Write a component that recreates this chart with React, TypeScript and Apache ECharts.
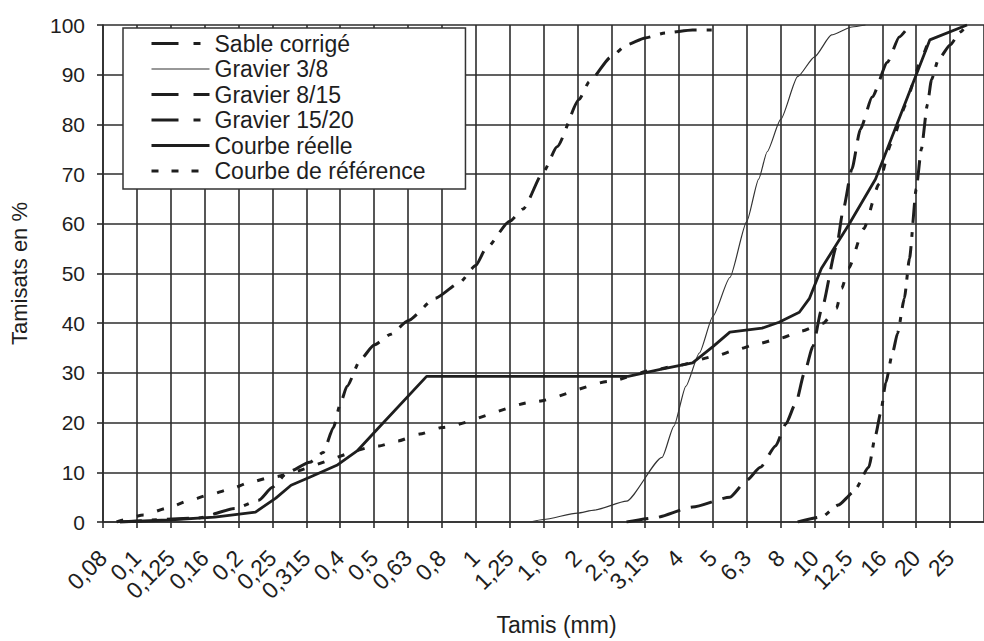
import { useEffect, useRef } from 'react';
import * as echarts from 'echarts';

// Sieve openings (mm) – one axis step per sieve; x values below are expressed in sieve steps
const SIEVES = ['0,08', '0,1', '0,125', '0,16', '0,2', '0,25', '0,315', '0,4', '0,5', '0,63', '0,8', '1', '1,25', '1,6', '2', '2,5', '3,15', '4', '5', '6,3', '8', '10', '12,5', '16', '20', '25'];

const SERIES_NAMES = ['Sable corrigé', 'Gravier 3/8', 'Gravier 8/15', 'Gravier 15/20', 'Courbe réelle', 'Courbe de référence'];

const SABLE: [number, number][] = [
  [0.5, 0], [2.8, 0.8], [3.9, 2.7], [4.6, 4.4], [5.0, 7], [5.45, 10], [6.1, 12], [6.5, 14], [6.8, 19],
  [7.0, 23.7], [7.2, 27.3], [7.6, 32.7], [8.0, 35.6], [8.5, 37.8], [9.0, 40.5], [9.8, 45], [10.5, 48],
  [11.0, 51.6], [11.3, 55], [12.0, 60.5], [12.4, 63], [13.0, 70.5], [13.4, 75.5], [14.05, 85], [14.35, 88.6],
  [15.0, 93.6], [15.45, 96], [16.0, 97.4], [16.6, 98.4], [17.4, 99], [18.2, 99],
];

const GRAVIER_3_8: [number, number][] = [
  [12.6, 0], [13.0, 0.5], [14.0, 1.8], [14.5, 2.4], [15.45, 4.2], [16.5, 13], [16.85, 19.3], [17.2, 27.3],
  [17.6, 34], [18.0, 41.4], [18.5, 49.2], [19.0, 60.5], [19.35, 69], [19.6, 74.5], [20.0, 81], [20.5, 89.6],
  [21.0, 93.6], [21.5, 98], [22.1, 99.6], [22.5, 100],
];

const GRAVIER_8_15: [number, number][] = [
  [15.45, 0], [16.25, 0.8], [17.4, 3], [18.5, 5], [19.0, 8.4], [19.4, 11], [19.85, 15.3], [20.15, 19.7],
  [20.45, 24], [20.7, 30], [20.95, 35.3], [21.2, 42.6], [21.65, 55.5], [21.85, 63], [22.1, 71], [22.35, 79],
  [22.7, 85.5], [23.15, 92.5], [23.5, 97.6], [23.7, 99],
];

const GRAVIER_15_20: [number, number][] = [
  [20.5, 0], [21.2, 1], [21.7, 3.4], [22.15, 6], [22.6, 11], [22.8, 17.5], [22.95, 22], [23.1, 28],
  [23.3, 34], [23.45, 38], [23.65, 45], [23.8, 53], [24.0, 67], [24.15, 75], [24.33, 84], [24.45, 89],
  [24.65, 93], [25.0, 96], [25.3, 98.6], [25.5, 100],
];

const COURBE_REELLE: [number, number][] = [
  [0.5, 0], [1.9, 0.4], [3.3, 1], [4.5, 2], [5.1, 4.8], [5.55, 7.4], [6.1, 9], [6.9, 11.4], [7.5, 14.3],
  [8.1, 18.7], [9.55, 29.3], [15.5, 29.3], [16.45, 30.7], [17.4, 32], [18.0, 35.3], [18.5, 38.2],
  [19.45, 39], [19.95, 40.2], [20.55, 42.2], [20.85, 45], [21.2, 51], [22.0, 59.7], [22.8, 69],
  [24.4, 97], [25.5, 100],
];

const COURBE_REFERENCE: [number, number][] = [
  [0.4, 0], [1.2, 1.4], [1.9, 2.8], [2.5, 4.2], [3.1, 5.4], [3.75, 6.6], [4.35, 8], [4.95, 9], [8.15, 15.3],
  [8.7, 16.3], [9.35, 17.7], [10.0, 19], [12.75, 24.2], [14.95, 28.3], [16.2, 30.5], [16.9, 31.4],
  [18.1, 33.4], [18.65, 34.6], [19.35, 35.9], [20.0, 37], [20.6, 38.4], [21.25, 40], [21.65, 43],
  [21.8, 47], [22.0, 51], [22.45, 59], [22.9, 68], [23.25, 76], [23.7, 84], [23.9, 88], [24.1, 92.5],
  [24.35, 96.6],
];

const SERIES_DATA = [SABLE, GRAVIER_3_8, GRAVIER_8_15, GRAVIER_15_20, COURBE_REELLE, COURBE_REFERENCE];

const INK = '#1e1e1e';
const GRID = '#2c2c2c';
const FONT = '"Liberation Sans", Arial, Helvetica, sans-serif';

const LINE_STYLES = [
  { width: 3, type: [22, 10, 5, 10] as number[] | string, color: INK },
  { width: 1.2, type: 'solid' as number[] | string, color: '#333' },
  { width: 3, type: [22, 11] as number[] | string, color: INK },
  { width: 3, type: [20, 9, 5, 9] as number[] | string, color: INK },
  { width: 2.8, type: 'solid' as number[] | string, color: INK },
  { width: 3, type: [7, 14] as number[] | string, color: INK },
];

// dash patterns used only for the legend samples
const LEGEND_DASH = [[27, 15, 7, 20], 'solid', [27, 15, 17, 5], [27, 15, 7, 20], 'solid', [7, 13]];

export default function App() {
  const ref = useRef<HTMLDivElement>(null);

  useEffect(() => {
    if (!ref.current) return;
    const chart = echarts.init(ref.current, null, { renderer: 'svg' });

    const option = {
      animation: false,
      backgroundColor: '#ffffff',
      textStyle: { fontFamily: FONT, color: INK },
      grid: { left: 103, right: -10.3, top: 25, bottom: 114, containLabel: false },
      legend: {
        orient: 'vertical',
        left: 123,
        top: 28,
        itemWidth: 58,
        itemHeight: 14,
        itemGap: 2.5,
        padding: [4, 40, 6.5, 27],
        borderColor: '#333',
        borderWidth: 1.5,
        borderRadius: 0,
        backgroundColor: '#ffffff',
        selectedMode: false,
        itemStyle: { opacity: 0 },
        textStyle: { fontSize: 23, color: INK, fontFamily: FONT, lineHeight: 23 },
        data: SERIES_NAMES.map((name, i) => ({
          name,
          lineStyle: { type: LEGEND_DASH[i], width: LINE_STYLES[i].width, color: LINE_STYLES[i].color },
        })),
      },
      xAxis: {
        type: 'value',
        min: 0,
        max: 26,
        interval: 1,
        name: 'Tamis (mm)',
        nameLocation: 'middle',
        nameGap: 91,
        nameTextStyle: { fontSize: 23, color: INK, fontFamily: FONT, padding: [0, 0, 0, 26] },
        axisLine: { show: true, onZero: false, lineStyle: { color: GRID, width: 1.6 } },
        axisTick: { show: true, length: 6, lineStyle: { color: GRID, width: 1.6 } },
        axisLabel: {
          rotate: 45,
          margin: 32,
          fontSize: 23,
          color: INK,
          fontFamily: FONT,
          showMaxLabel: false,
          formatter: (v: number) => SIEVES[Math.round(v)] ?? '',
        },
        splitLine: { show: true, lineStyle: { color: GRID, width: 1.6 } },
      },
      yAxis: {
        type: 'value',
        min: 0,
        max: 100,
        interval: 10,
        name: 'Tamisats en %',
        nameLocation: 'middle',
        nameGap: 73,
        nameTextStyle: { fontSize: 22, color: INK, fontFamily: FONT },
        axisLine: { show: true, lineStyle: { color: GRID, width: 1.6 } },
        axisTick: { show: true, length: 6, lineStyle: { color: GRID, width: 1.6 } },
        axisLabel: { fontSize: 21, color: INK, margin: 18, fontFamily: FONT },
        splitLine: { show: true, lineStyle: { color: GRID, width: 1.6 } },
      },
      series: SERIES_NAMES.map((name, i) => ({
        name,
        type: 'line',
        data: SERIES_DATA[i],
        symbol: 'none',
        showSymbol: false,
        smooth: i === 4 ? false : 0.2,
        smoothMonotone: 'x',
        color: LINE_STYLES[i].color,
        lineStyle: LINE_STYLES[i],
        z: 3,
      })),
    };

    chart.setOption(option as any);
    return () => chart.dispose();
  }, []);

  return (
    <div
      ref={ref}
      style={{ position: 'absolute', left: 0, top: 0, width: 984, height: 641, background: '#fff' }}
    />
  );
}
